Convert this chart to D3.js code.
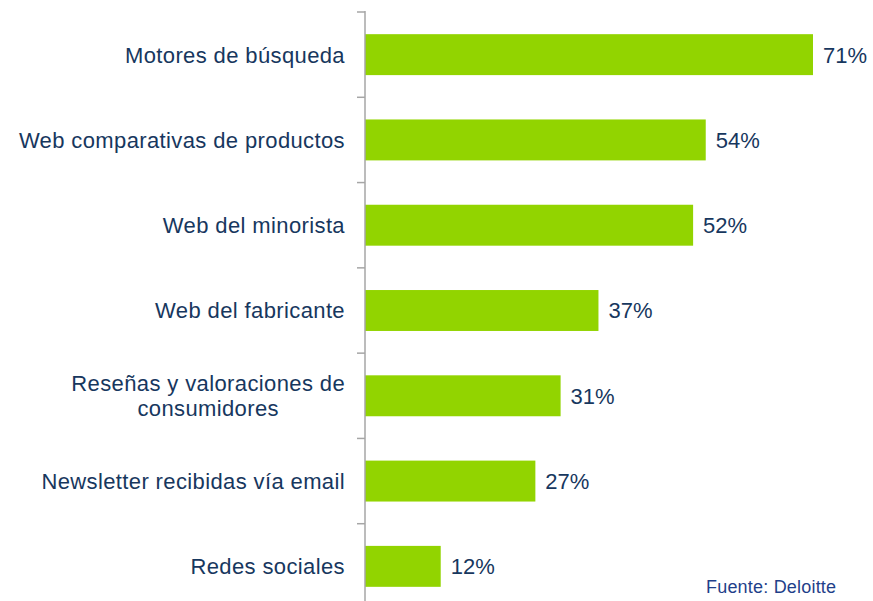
<!DOCTYPE html>
<html>
<head>
<meta charset="utf-8">
<script src="https://cdn.jsdelivr.net/npm/d3@7"></script>
<style>
  body { margin: 0; background: #fff; }
  text { font-family: "Liberation Sans", Arial, sans-serif; }
</style>
</head>
<body>
<div id="chart"></div>
<script>
  // data
  const categories = [
    'Motores de búsqueda',
    'Web comparativas de productos',
    'Web del minorista',
    'Web del fabricante',
    'Reseñas y valoraciones de|consumidores',
    'Newsletter recibidas vía email',
    'Redes sociales'
  ];
  const values = [71, 54, 52, 37, 31, 27, 12];
  const source = 'Fuente: Deloitte';

  const width = 873;
  const height = 601;
  const axisX = 365;
  const barColor = '#92d400';
  const textColor = '#17375e';

  const svg = d3.select('#chart').append('svg')
    .attr('width', width)
    .attr('height', height);

  /* Scales */
  const xScale = d3.scaleLinear()
    .domain([0, 71])
    .range([axisX, 813]);

  const yScale = d3.scaleBand()
    .domain(categories)
    .range([12, 609])
    .paddingInner(0.52)
    .paddingOuter(0.26);

  /* Bars */
  svg.selectAll('.bar')
    .data(categories)
    .enter()
    .append('rect')
    .attr('class', 'bar')
    .attr('x', xScale(0))
    .attr('y', d => yScale(d))
    .attr('width', (d, i) => xScale(values[i]) - xScale(0))
    .attr('height', yScale.bandwidth())
    .style('fill', barColor);

  /* Value labels */
  svg.selectAll('.value')
    .data(categories)
    .enter()
    .append('text')
    .attr('class', 'value')
    .attr('x', (d, i) => xScale(values[i]) + 10)
    .attr('y', d => yScale(d) + yScale.bandwidth() / 2)
    .attr('dy', '0.36em')
    .style('font-size', '22px')
    .style('fill', textColor)
    .text((d, i) => values[i] + '%');

  /* Category labels (multi-line centred on longest line) */
  const labels = svg.selectAll('.label')
    .data(categories)
    .enter()
    .append('text')
    .attr('class', 'label')
    .style('font-size', '22px')
    .style('letter-spacing', '0.38px')
    .style('fill', textColor);

  labels.each(function(d) {
    const lines = d.split('|');
    const el = d3.select(this);
    const cy = yScale(d) + yScale.bandwidth() / 2;
    const lineH = 25;
    if (lines.length == 1) {
      el.attr('text-anchor', 'end')
        .append('tspan')
        .attr('x', axisX - 20)
        .attr('y', cy)
        .attr('dy', '0.36em')
        .text(lines[0]);
    } else {
      // measure the longest line to centre all lines on it
      const tmp = el.append('tspan').text(lines[0]);
      const w = tmp.node().getComputedTextLength();
      tmp.remove();
      const cx = axisX - 20 - w / 2;
      el.attr('text-anchor', 'middle');
      lines.forEach((ln, k) => {
        el.append('tspan')
          .attr('x', cx)
          .attr('y', cy + (k - (lines.length - 1) / 2) * lineH)
          .attr('dy', '0.36em')
          .text(ln);
      });
    }
  });

  /* Axis line and ticks at band boundaries */
  const axis = svg.append('g').attr('class', 'y axis');
  axis.append('line')
    .attr('x1', axisX).attr('x2', axisX)
    .attr('y1', 11).attr('y2', height)
    .style('stroke', '#a6a6a6')
    .style('stroke-width', 1.5);

  axis.selectAll('.tick')
    .data(categories)
    .enter()
    .append('line')
    .attr('class', 'tick')
    .attr('x1', axisX - 8).attr('x2', axisX)
    .attr('y1', d => yScale(d) - yScale.step() * yScale.paddingInner() / 2)
    .attr('y2', d => yScale(d) - yScale.step() * yScale.paddingInner() / 2)
    .style('stroke', '#a6a6a6')
    .style('stroke-width', 1.5);

  /* Source */
  svg.append('text')
    .attr('x', 706)
    .attr('y', 593)
    .style('font-size', '18px')
    .style('letter-spacing', '0.2px')
    .style('fill', '#1f3f8a')
    .text(source);
</script>
</body>
</html>
